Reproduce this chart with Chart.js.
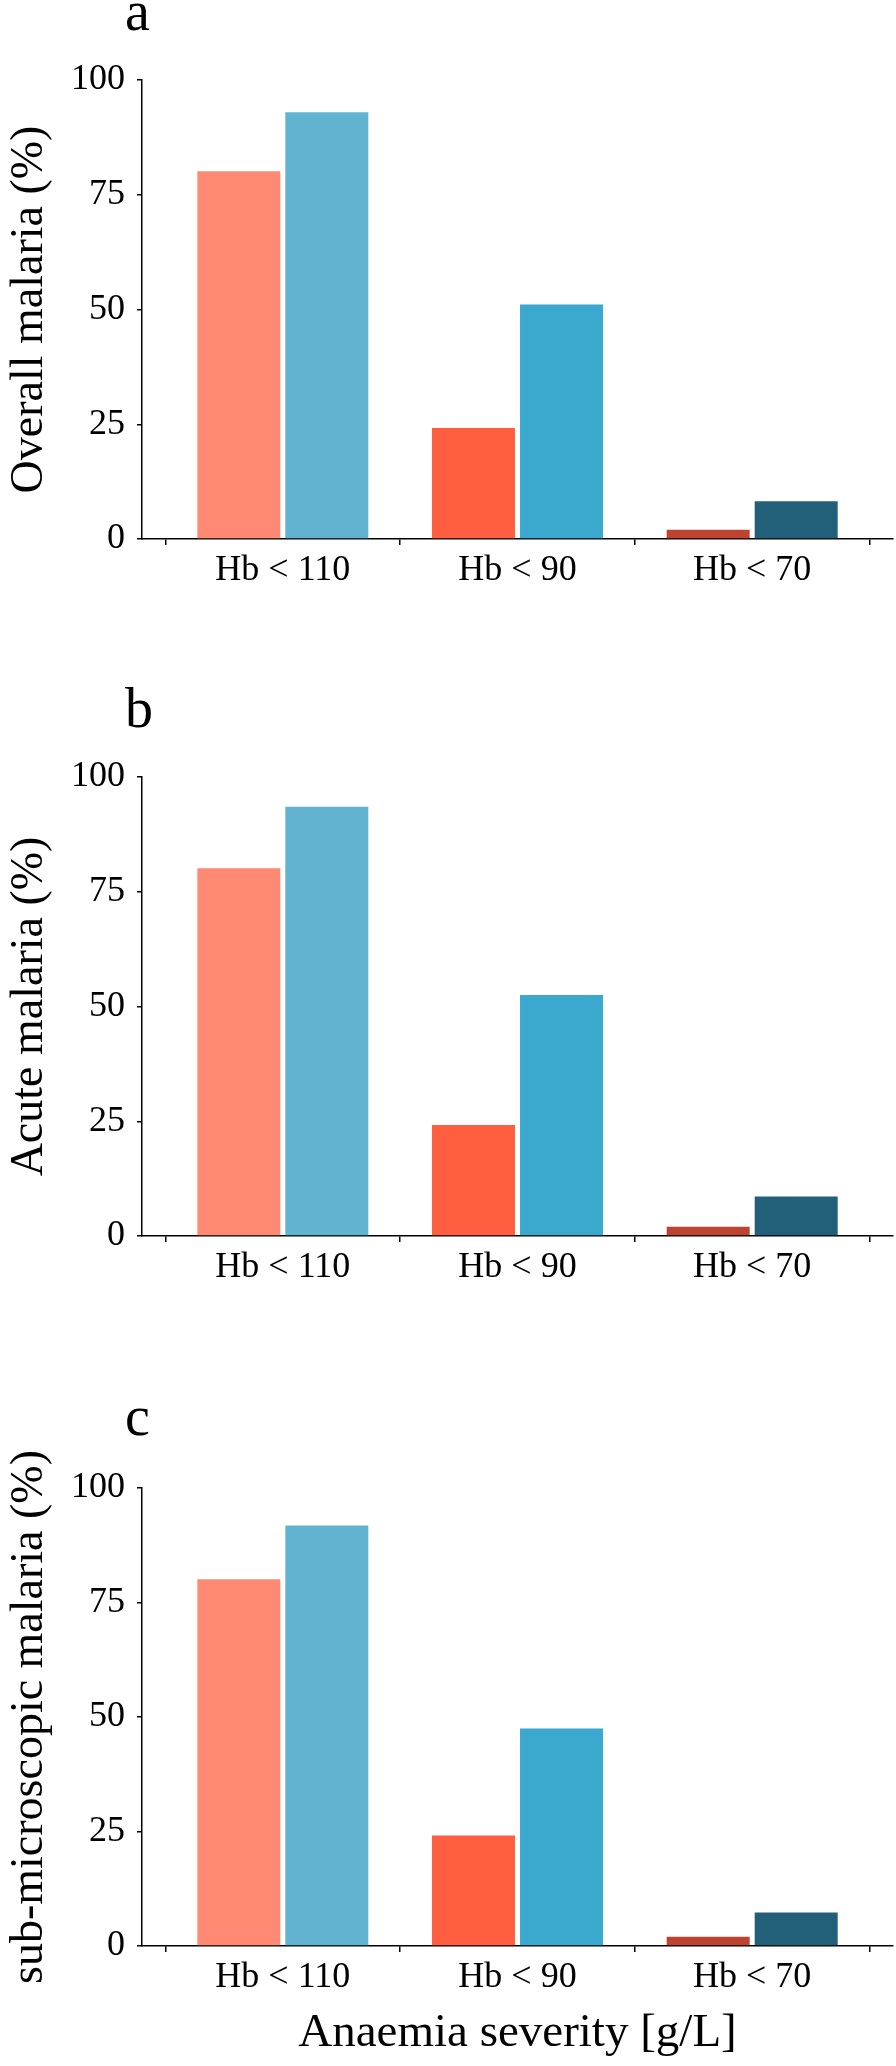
<!DOCTYPE html>
<html>
<head>
<meta charset="utf-8">
<script src="https://cdn.jsdelivr.net/npm/chart.js@4.4.1/dist/chart.umd.min.js"></script>
<style>
body {
    margin: 0;
    background: #fff;
    width: 896px;
    height: 2066px;
    position: relative;
    overflow: hidden;
}
.panel {
    position: absolute;
    left: 0;
    width: 896px;
}
.panel canvas {
    position: absolute;
    left: 0;
    top: 0;
}
.panel-letter {
    position: absolute;
    left: 125px;
    font-family: "Liberation Serif", "Times New Roman", serif;
    font-size: 56px;
    line-height: 56px;
    color: #000;
}
</style>
</head>
<body>

<div class="panel" style="top:0px;height:650px;">
    <canvas id="grafico-a" width="896" height="650"></canvas>
    <div class="panel-letter" style="top:-17px;">a</div>
</div>
<div class="panel" style="top:650px;height:690px;">
    <canvas id="grafico-b" width="896" height="690"></canvas>
    <div class="panel-letter" style="top:30px;">b</div>
</div>
<div class="panel" style="top:1340px;height:726px;">
    <canvas id="grafico-c" width="896" height="726"></canvas>
    <div class="panel-letter" style="top:48px;">c</div>
</div>

<script>
// data
const categories = ['Hb < 110', 'Hb < 90', 'Hb < 70'];
const yTicks = [0, 25, 50, 75, 100];

const overallSeries1 = [80.1, 24.2, 2.0];
const overallSeries2 = [93.0, 51.1, 8.2];
const acuteSeries1 = [80.1, 24.2, 2.0];
const acuteSeries2 = [93.5, 52.5, 8.6];
const subSeries1 = [80.1, 24.1, 2.0];
const subSeries2 = [91.8, 47.5, 7.3];

const warmColors = ['#FF8A73', '#FF5E41', '#BE4330'];
const coolColors = ['#62B3CF', '#3BA9CE', '#216078'];

Chart.defaults.font.family = '"Liberation Serif", "Times New Roman", serif';
Chart.defaults.color = '#000';

function drawPanel(id, yTitle, values1, values2, geo) {
    new Chart(document.getElementById(id).getContext('2d'), {
        type: 'bar',
        data: {
            datasets: [{
                label: 'Series 1',
                data: categories.map((c, i) => ({ x: i, y: values1[i] })),
                backgroundColor: warmColors,
                borderWidth: 0,
                categoryPercentage: 0.75,
                barPercentage: 0.943
            }, {
                label: 'Series 2',
                data: categories.map((c, i) => ({ x: i, y: values2[i] })),
                backgroundColor: coolColors,
                borderWidth: 0,
                categoryPercentage: 0.75,
                barPercentage: 0.943
            }]
        },
        options: {
            responsive: false,
            animation: false,
            layout: {
                padding: { top: geo.top, right: 3, bottom: 0, left: 0 }
            },
            plugins: {
                legend: { display: false },
                tooltip: { enabled: false }
            },
            scales: {
                x: {
                    type: 'linear',
                    min: -0.6,
                    max: 2.6,
                    offset: false,
                    afterBuildTicks: s => { s.ticks = categories.map((c, i) => ({ value: i })); },
                    afterFit: s => { s.height = geo.xHeight; },
                    ticks: {
                        callback: v => categories[v],
                        font: { size: 36 },
                        color: '#000',
                        padding: 4,
                        autoSkip: false,
                        maxRotation: 0
                    },
                    grid: { drawOnChartArea: false, tickLength: 6, color: '#000', lineWidth: 1.5 },
                    border: { color: '#000', width: 1.5 },
                    title: {
                        display: !!geo.xTitle,
                        text: geo.xTitle || '',
                        font: { size: 47 },
                        color: '#000',
                        padding: { top: 0, bottom: 4 }
                    }
                },
                y: {
                    min: 0,
                    max: 100,
                    afterBuildTicks: s => { s.ticks = yTicks.map(v => ({ value: v })); },
                    afterFit: s => { s.width = 142; },
                    ticks: { font: { size: 36 }, color: '#000', padding: 12 },
                    grid: { drawOnChartArea: false, tickLength: 5, color: '#000', lineWidth: 1.5 },
                    border: { color: '#000', width: 1.5 },
                    title: {
                        display: true,
                        text: yTitle,
                        font: { size: 46 },
                        color: '#000',
                        padding: { top: 2, bottom: 0 }
                    }
                }
            }
        }
    });
}

drawPanel('grafico-a', 'Overall malaria (%)', overallSeries1, overallSeries2, { top: 80, xHeight: 111 });
drawPanel('grafico-b', 'Acute malaria (%)', acuteSeries1, acuteSeries2, { top: 127, xHeight: 104 });
drawPanel('grafico-c', 'sub-microscopic malaria (%)', subSeries1, subSeries2, { top: 148, xHeight: 120, xTitle: 'Anaemia severity [g/L]' });
</script>
</body>
</html>
